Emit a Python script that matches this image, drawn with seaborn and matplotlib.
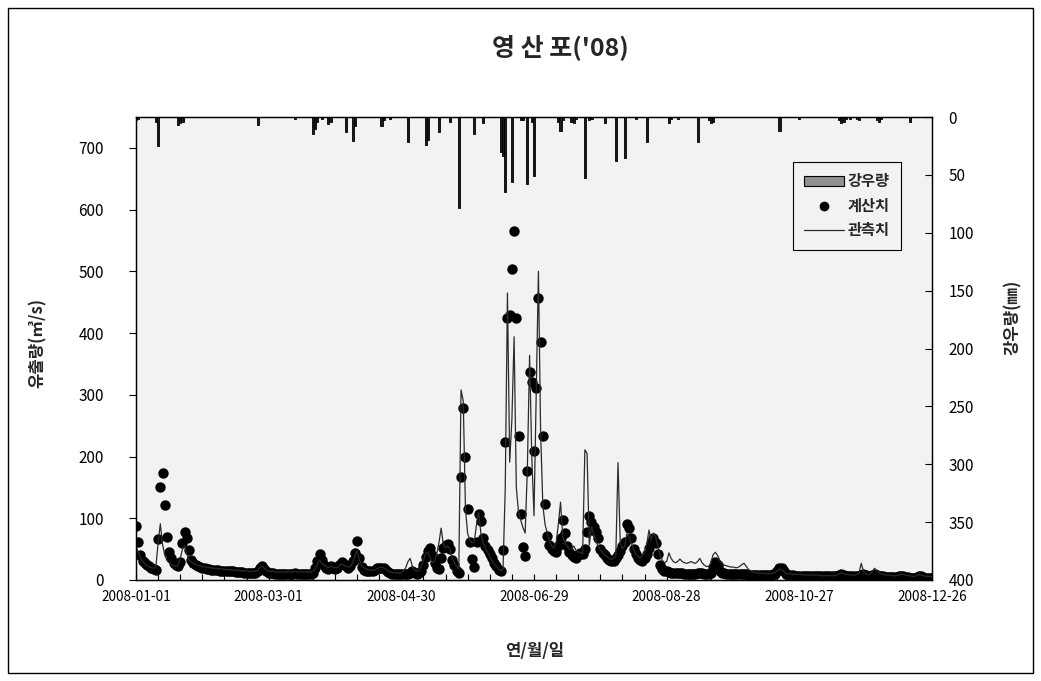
import pandas as pd
import matplotlib
matplotlib.use("Agg")
import matplotlib.pyplot as plt
import matplotlib.dates as mdates
from matplotlib.patches import Patch, Rectangle
from matplotlib.lines import Line2D
from matplotlib.ticker import FixedLocator
import seaborn as sns

sns.set_theme(style="white")
plt.rcParams["font.family"] = ["Noto Sans CJK KR", "DejaVu Sans"]
plt.rcParams["axes.unicode_minus"] = False

# ---- daily discharge, 2008-01-01 .. 2008-12-31 (m3/s) ----
start_date = "2008-01-01"

computed = [
    # Jan
    88, 62, 40, 30, 27, 24, 22, 20, 18, 16,
    66, 151, 173, 121, 70, 45, 36, 28, 24, 22,
    29, 60, 78, 68, 49, 33, 28, 25, 23, 21, 20,
    # Feb
    19, 18, 18, 17, 17, 16, 16, 15, 15, 15,
    14, 14, 14, 14, 13, 13, 13, 13, 12, 12,
    12, 12, 12, 12, 14, 19, 22, 18, 14,
    # Mar
    11, 11, 11, 10, 10, 10, 10, 10, 10, 10,
    10, 10, 11, 10, 10, 10, 10, 10, 10, 10,
    12, 20, 30, 42, 32, 24, 19, 18, 22, 20, 18,
    # Apr
    20, 24, 29, 26, 22, 20, 22, 30, 44, 63,
    35, 21, 17, 15, 14, 14, 15, 17, 19, 20,
    20, 19, 16, 13, 11, 10, 9, 9, 9, 10,
    # May
    10, 9, 9, 12, 14, 11, 10, 11, 15, 24,
    38, 47, 52, 40, 27, 20, 18, 35, 52, 57,
    58, 50, 32, 25, 15, 11, 167, 279, 200, 115, 62,
    # Jun
    34, 21, 62, 107, 96, 68, 55, 48, 42, 35,
    28, 22, 17, 14, 49, 224, 424, 430, 504, 565,
    424, 233, 107, 53, 39, 177, 337, 321, 209, 311,
    # Jul
    457, 386, 233, 123, 71, 57, 50, 47, 45, 55,
    68, 97, 76, 55, 45, 40, 38, 36, 40, 44,
    42, 50, 78, 104, 94, 86, 78, 68, 50, 44, 40,
    # Aug
    36, 32, 30, 31, 35, 40, 47, 55, 62, 91,
    84, 68, 50, 42, 36, 32, 30, 35, 42, 52,
    60, 68, 60, 42, 24, 18, 15, 14, 13, 12, 12,
    # Sep
    11, 11, 11, 11, 10, 10, 10, 10, 10, 10,
    11, 12, 11, 10, 10, 10, 12, 20, 29, 24,
    15, 12, 11, 10, 10, 9, 9, 9, 9, 9,
    # Oct
    9, 9, 9, 8, 8, 8, 8, 8, 8, 8,
    8, 8, 8, 8, 9, 10, 14, 19, 19, 14,
    10, 8, 8, 8, 7, 7, 7, 7, 7, 7, 7,
    # Nov
    7, 7, 7, 7, 6, 6, 6, 6, 6, 6,
    6, 6, 7, 8, 9, 8, 7, 7, 7, 6,
    6, 6, 7, 8, 10, 8, 7, 7, 8, 9,
    # Dec
    8, 7, 6, 6, 5, 5, 5, 5, 5, 5,
    6, 7, 6, 5, 5, 4, 4, 4, 5, 6,
    6, 5, 4, 4, 4, 4, 4, 4, 4, 4, 4,
]

observed = [
    # Jan
    55, 45, 36, 30, 26, 23, 21, 20, 19, 22,
    60, 91, 58, 40, 32, 28, 25, 23, 22, 23,
    35, 50, 56, 42, 33, 29, 27, 25, 24, 23, 22,
    # Feb
    21, 21, 20, 20, 19, 19, 18, 18, 18, 17,
    17, 17, 16, 16, 16, 16, 15, 15, 15, 15,
    14, 14, 14, 14, 15, 20, 23, 19, 16,
    # Mar
    14, 14, 14, 13, 13, 13, 13, 13, 13, 13,
    13, 13, 14, 13, 13, 13, 13, 13, 13, 13,
    14, 18, 25, 32, 28, 24, 22, 20, 22, 21, 20,
    # Apr
    20, 23, 26, 24, 22, 21, 22, 28, 40, 48,
    33, 24, 20, 18, 17, 16, 16, 16, 18, 20,
    21, 20, 17, 15, 13, 12, 12, 11, 11, 12,
    # May
    14, 20, 30, 35, 22, 16, 14, 16, 22, 32,
    42, 45, 36, 28, 30, 42, 60, 84, 58, 52,
    55, 50, 35, 28, 22, 18, 308, 290, 115, 75, 65,
    # Jun
    60, 62, 90, 110, 75, 60, 52, 45, 38, 32,
    26, 22, 18, 15, 18, 150, 465, 191, 260, 394,
    150, 110, 97, 85, 76, 180, 364, 200, 104, 300,
    # Jul
    500, 238, 121, 90, 76, 62, 55, 52, 60, 90,
    126, 70, 60, 55, 50, 50, 55, 48, 45, 45,
    42, 211, 205, 57, 86, 75, 62, 55, 48, 44, 40,
    # Aug
    38, 35, 33, 35, 40, 190, 60, 50, 55, 75,
    70, 60, 50, 42, 38, 35, 40, 45, 58, 81,
    65, 76, 70, 55, 40, 32, 28, 30, 44, 35, 30,
    # Sep
    28, 30, 34, 30, 28, 27, 28, 30, 28, 27,
    30, 35, 28, 24, 22, 22, 28, 41, 45, 40,
    32, 27, 24, 23, 22, 21, 21, 20, 20, 22,
    # Oct
    25, 27, 22, 17, 15, 13, 12, 12, 11, 11,
    11, 10, 10, 10, 11, 12, 15, 18, 17, 14,
    11, 10, 10, 9, 9, 9, 9, 9, 8, 8, 8,
    # Nov
    8, 8, 8, 8, 8, 7, 7, 7, 7, 7,
    7, 7, 8, 10, 12, 10, 9, 9, 8, 8,
    8, 9, 12, 27, 14, 10, 9, 10, 14, 19,
    # Dec
    15, 12, 10, 9, 8, 8, 8, 7, 7, 7,
    8, 10, 9, 8, 7, 7, 6, 6, 7, 9,
    8, 7, 6, 6, 6, 5, 5, 5, 5, 5, 5,
]

# ---- daily rainfall (mm), rainy days only ----
rain_dates = [
    "2008-01-01", "2008-01-02", "2008-01-10", "2008-01-11", "2008-01-20",
    "2008-01-21", "2008-01-22", "2008-02-25", "2008-03-13", "2008-03-21",
    "2008-03-22", "2008-03-23", "2008-03-25", "2008-03-28", "2008-03-29",
    "2008-04-05", "2008-04-08", "2008-04-09", "2008-04-21", "2008-04-22",
    "2008-04-25", "2008-05-03", "2008-05-11", "2008-05-12", "2008-05-17",
    "2008-05-22", "2008-05-26", "2008-06-02", "2008-06-06", "2008-06-14",
    "2008-06-15", "2008-06-16", "2008-06-19", "2008-06-23", "2008-06-24",
    "2008-06-26", "2008-06-28", "2008-06-29", "2008-07-10", "2008-07-11",
    "2008-07-12", "2008-07-16", "2008-07-17", "2008-07-18", "2008-07-22",
    "2008-07-24", "2008-07-25", "2008-07-31", "2008-08-05", "2008-08-09",
    "2008-08-14", "2008-08-19", "2008-08-29", "2008-08-30", "2008-09-02",
    "2008-09-11", "2008-09-16", "2008-09-17", "2008-09-18", "2008-10-18",
    "2008-10-27", "2008-11-14", "2008-11-15", "2008-11-16", "2008-11-17",
    "2008-11-19", "2008-11-22", "2008-11-23", "2008-12-01", "2008-12-02",
    "2008-12-03", "2008-12-16",
]
rain_mm = [
    3, 2, 4, 25, 7,
    5, 4, 7, 2, 15,
    10, 4, 2, 6, 4,
    13, 21, 8, 8, 3,
    2, 22, 24, 20, 13,
    4, 79, 15, 5, 30,
    34, 65, 56, 3, 3,
    58, 4, 51, 4, 12,
    3, 4, 5, 2, 53,
    3, 2, 5, 38, 35,
    2, 22, 5, 2, 2,
    22, 3, 5, 4, 12,
    2, 3, 5, 4, 2,
    2, 2, 3, 3, 4,
    2, 4,
]

x_tick_dates = ["2008-01-01", "2008-03-01", "2008-04-30", "2008-06-29",
                "2008-08-28", "2008-10-27", "2008-12-26"]
flow_ticks = list(range(0, 701, 100))
rain_ticks = list(range(0, 401, 50))

title_text = "영 산 포('08)"
flow_label = "유출량(㎥/s)"
rain_label = "강우량(㎜)"
date_label = "연/월/일"
legend_labels = ["강우량", "계산치", "관측치"]

# ---- frames ----
dates = pd.date_range(start_date, periods=len(observed), freq="D")
flow = pd.DataFrame({"date": dates, "observed": observed, "computed": computed})
rain = pd.DataFrame({"date": pd.to_datetime(rain_dates), "mm": rain_mm})

W, H = 1041, 681
fig = plt.figure(figsize=(W / 100, H / 100), dpi=100)
fig.patch.set_facecolor("white")
ax = fig.add_axes([136 / W, 1 - 580 / H, (932 - 136) / W, (580 - 117) / H])
ax.set_facecolor("#f2f2f2")
ax2 = ax.twinx()

# discharge: computed as dots, observed as a thin line
sns.scatterplot(data=flow, x="date", y="computed", ax=ax, color="black",
                s=56, linewidth=0, zorder=3, legend=False)
sns.lineplot(data=flow, x="date", y="observed", ax=ax, color="#2b2b2b",
             linewidth=0.9, zorder=4, legend=False)

# rainfall hanging from the top on an inverted axis
ax2.bar(rain["date"], rain["mm"], width=1.0, color="#1a1a1a",
        edgecolor="black", linewidth=0.6, zorder=2)

x0 = pd.Timestamp(x_tick_dates[0])
x1 = pd.Timestamp(x_tick_dates[-1])
ax.set_xlim(x0, x1)
ax.set_ylim(0, 750)
ax2.set_ylim(400, 0)
ax.set_yticks(flow_ticks)
ax2.set_yticks(rain_ticks)
ax.set_xticks(pd.to_datetime(x_tick_dates))
ax.xaxis.set_major_formatter(mdates.DateFormatter("%Y-%m-%d"))
minor = pd.date_range(x0, x1, freq="10D")
ax.xaxis.set_minor_locator(FixedLocator(mdates.date2num(minor)))

ax.set_xlabel("")
ax.set_ylabel("")
ax2.set_ylabel("")

ax.tick_params(axis="x", which="both", direction="in", length=4, width=0.8,
               color="black", labelsize=9.8, pad=7, labelcolor="black",
               bottom=True)
ax.tick_params(axis="y", direction="out", length=5, width=0.8, color="black",
               labelsize=11, pad=18, labelcolor="black", left=True)
ax2.tick_params(axis="y", direction="in", length=5, width=0.8, color="black",
                labelsize=11, pad=12, labelcolor="black", right=True)

for a in (ax, ax2):
    for sp in a.spines.values():
        sp.set_color("black")
        sp.set_linewidth(0.9)
        sp.set_visible(True)

# legend
handles = [
    Patch(facecolor="#909090", edgecolor="black", linewidth=0.8),
    Line2D([], [], marker="o", linestyle="none", color="black", markersize=6),
    Line2D([], [], color="#2b2b2b", linewidth=0.9),
]
leg = ax2.legend(handles, legend_labels, loc="upper left",
                 bbox_to_anchor=(0.825, 0.903), borderaxespad=0,
                 frameon=True, fancybox=False, edgecolor="black",
                 facecolor="#f2f2f2", framealpha=1,
                 prop={"weight": "bold", "size": 11},
                 handlelength=2.6, handleheight=0.55, handletextpad=0.25,
                 borderpad=0.75, labelspacing=0.55)
leg.get_frame().set_linewidth(0.8)

# titles and axis names
fig.text(560 / W, 1 - 47 / H, title_text, ha="center", va="center",
         fontsize=18, fontweight="bold")
fig.text(38 / W, 1 - 343 / H, flow_label, ha="center", va="center",
         rotation=90, fontsize=12, fontweight="bold")
fig.text(1013 / W, 1 - 317 / H, rain_label, ha="center", va="center",
         rotation=90, fontsize=12, fontweight="bold")
fig.text(535 / W, 1 - 651 / H, date_label, ha="center", va="center",
         fontsize=12, fontweight="bold")

# outer frame
fig.add_artist(Rectangle((8 / W, 8 / H), (1033 - 8) / W, (673 - 8) / H,
                         transform=fig.transFigure, fill=False,
                         edgecolor="black", linewidth=1))

fig.savefig("out.png", dpi=100)
